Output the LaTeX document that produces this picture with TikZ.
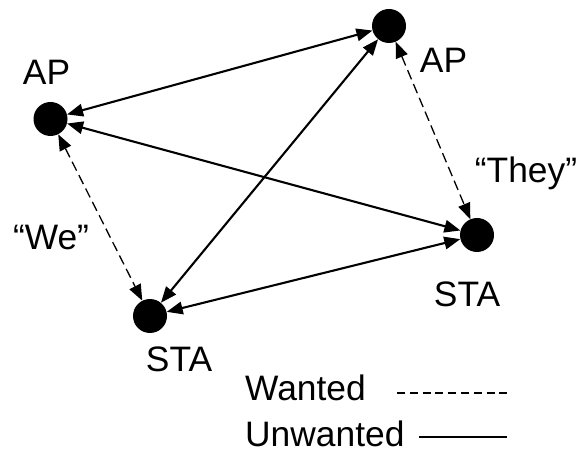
\documentclass[tikz,border=0pt]{standalone}
\usepackage{fontspec}
\setmainfont{Liberation Sans}
\usetikzlibrary{arrows.meta}
\begin{document}
\begin{tikzpicture}[x=1bp,y=-1bp,
  dot/.style={circle,fill=black,draw=none,minimum size=34bp,inner sep=0pt},
  lbl/.style={inner sep=0pt,anchor=base,font=\fontsize{35.5}{40}\selectfont},
  tip/.style={Triangle[length=16bp,width=12.5bp]},
  unwanted/.style={line width=2.1bp,{Triangle[length=16bp,width=12.5bp]}-{Triangle[length=16bp,width=12.5bp]}},
  wanted/.style={line width=1.3bp,dash pattern=on 10bp off 5bp,{Triangle[length=16bp,width=12.5bp]}-{Triangle[length=16bp,width=12.5bp]}},
  legdash/.style={line width=1.4bp,dash pattern=on 8bp off 4.8bp},
  legsolid/.style={line width=2.2bp}]
\useasboundingbox (0,0) rectangle (578,451);
\node[dot] (ap1) at (50.5,119) {};
\node[dot] (ap2) at (389,26) {};
\node[dot] (sta2) at (477,235) {};
\node[dot] (sta1) at (150,316) {};
\node[lbl] (lap1) at (46.5,85) {AP};
\node[lbl] (lap2) at (443.5,73) {AP};
\node[lbl] (lsta2) at (467,306) {STA};
\node[lbl] (lsta1) at (179,371) {STA};
\node[lbl] (lwe) at (51,250) {“We”};
\node[lbl] (lthey) at (526,183) {“They”};
\node[lbl,anchor=base west] (lwant) at (245,400) {Wanted};
\node[lbl,anchor=base west] (lunwant) at (245,446) {Unwanted};
\coordinate (d1) at (397,393);
\coordinate (d2) at (507,393);
\coordinate (s1) at (419,437);
\coordinate (s2) at (507,437);
\draw[unwanted] (ap1) -- (ap2);
\draw[unwanted] (ap1) -- (sta2);
\draw[unwanted] (ap2) -- (sta1);
\draw[unwanted] (sta1) -- (sta2);
\draw[wanted] (ap1) -- (sta1);
\draw[wanted] (ap2) -- (sta2);
\draw[legdash] (d1) -- (d2);
\draw[legsolid] (s1) -- (s2);
\end{tikzpicture}
\end{document}
